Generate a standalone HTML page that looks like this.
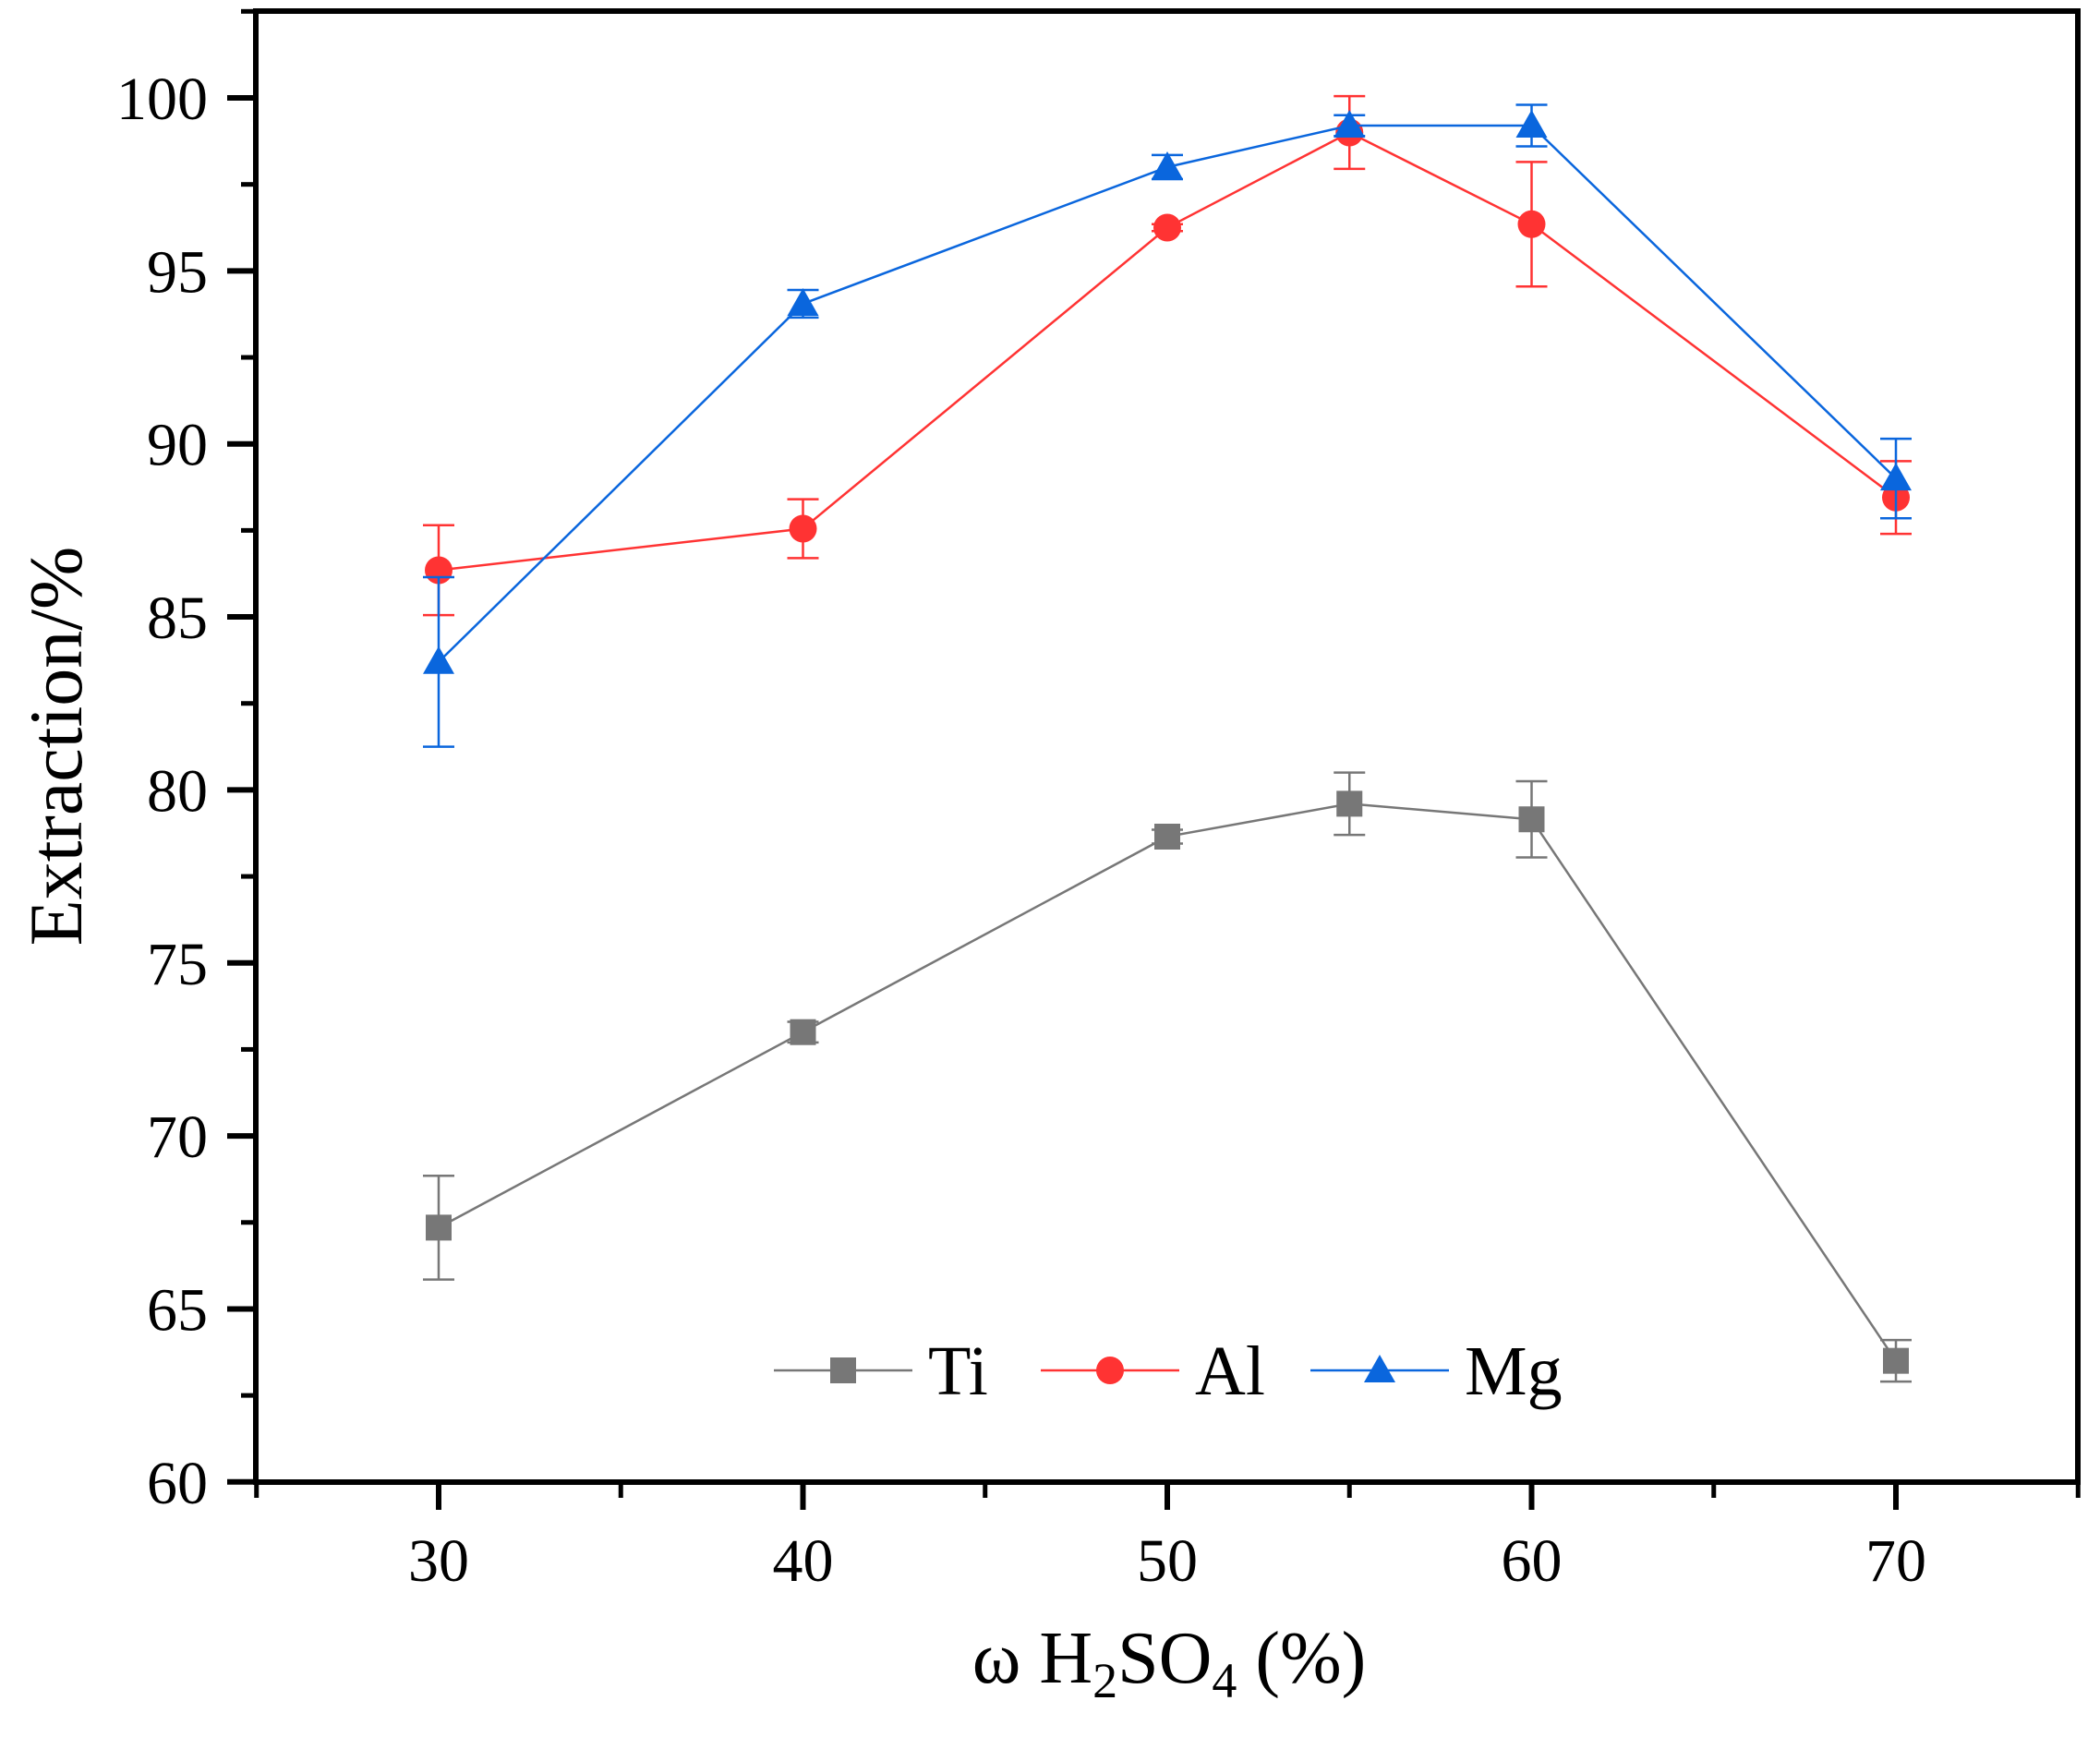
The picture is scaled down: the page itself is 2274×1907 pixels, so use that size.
<!DOCTYPE html>
<html><head><meta charset="utf-8"><style>html,body{margin:0;padding:0;background:#fff}svg{display:block}svg text{font-family:"Liberation Serif",serif}</style></head>
<body>
<svg id="chart" width="2274" height="1907" xmlns="http://www.w3.org/2000/svg" style="font-family:'Liberation Serif',serif">
<g id="axes"></g>
<g id="series"></g>
<g id="legend"></g>
<text x="0" y="0" transform="translate(88,808) rotate(-90)" text-anchor="middle" font-size="82">Extraction/%</text>
<text x="1266" y="1822" text-anchor="middle" font-size="80">ω H<tspan font-size="54" dy="16">2</tspan><tspan dy="-16">SO</tspan><tspan font-size="54" dy="16">4</tspan><tspan dy="-16"> (%)</tspan></text>
</svg>
<script>
const xCats = [30, 40, 50, 55, 60, 70];
const tiVals = [67.35, 73.0, 78.65, 79.6, 79.15, 63.5];
const tiErr = [1.5, 0.3, 0.2, 0.9, 1.1, 0.6];
const alVals = [86.35, 87.55, 96.25, 99.0, 96.35, 88.45];
const alErr = [1.3, 0.85, 0.1, 1.05, 1.8, 1.05];
const mgVals = [83.7, 94.05, 98.0, 99.2, 99.2, 89.0];
const mgErr = [2.45, 0.4, 0.35, 0.3, 0.6, 1.15];
const xTicks = [30, 40, 50, 60, 70];
const xMinor = [25, 35, 45, 55, 65, 75];
const yTicks = [60, 65, 70, 75, 80, 85, 90, 95, 100];
const yMinor = [62.5, 67.5, 72.5, 77.5, 82.5, 87.5, 92.5, 97.5, 102.5];

const NS = 'http://www.w3.org/2000/svg';
const L = 277, R = 2250, T = 12, B = 1605;
const X = v => 475 + (v - 30) * 39.45;
const Y = v => 106 + (100 - v) * 37.47;
function mk(tag, attrs, parent) { const e = document.createElementNS(NS, tag); for (const k in attrs) e.setAttribute(k, attrs[k]); parent.appendChild(e); return e; }

const ax = document.getElementById('axes');
let fr = mk('rect', {x: L, y: T, width: R - L, height: B - T, fill: 'none', stroke: '#000', 'stroke-width': 6}, ax);


xTicks.forEach(v => {
  const t = mk('line', {x1: X(v), x2: X(v), y1: B, y2: B + 30, stroke: '#000', 'stroke-width': 6}, ax);
  
  
  const tx = mk('text', {x: X(v), y: 1712, 'text-anchor': 'middle', 'font-size': 66}, ax);
  tx.textContent = v;
  
  
});
xMinor.forEach(v => {
  const t = mk('line', {x1: X(v), x2: X(v), y1: B, y2: B + 17, stroke: '#000', 'stroke-width': 5}, ax);
  
  
});
yTicks.forEach(v => {
  const t = mk('line', {x1: L - 31, x2: L, y1: Y(v), y2: Y(v), stroke: '#000', 'stroke-width': 6}, ax);
  
  
  const tx = mk('text', {x: 225, y: Y(v) + 23, 'text-anchor': 'end', 'font-size': 66}, ax);
  tx.textContent = v;
  
  
});
yMinor.forEach(v => {
  const t = mk('line', {x1: L - 16, x2: L, y1: Y(v), y2: Y(v), stroke: '#000', 'stroke-width': 5}, ax);
  
  
});

const sg = document.getElementById('series');
function marker(kind, cx, cy, color, parent) {
  let m;
  if (kind === 'square') m = mk('rect', {x: cx - 14, y: cy - 14, width: 28, height: 28, fill: color}, parent);
  else if (kind === 'circle') m = mk('circle', {cx: cx, cy: cy, r: 15, fill: color}, parent);
  else m = mk('polygon', {points: `${cx},${cy - 17} ${cx - 17},${cy + 13} ${cx + 17},${cy + 13}`, fill: color}, parent);
  return m;
}
function drawSeries(name, vals, errs, color, kind) {
  const g = mk('g', {}, sg);
  
  
  const pts = xCats.map((x, i) => X(x) + ',' + Y(vals[i])).join(' ');
  const pl = mk('polyline', {points: pts, fill: 'none', stroke: color, 'stroke-width': 2.5}, g);
  
  
  xCats.forEach((x, i) => {
    const cx = X(x), y1 = Y(vals[i] + errs[i]), y2 = Y(vals[i] - errs[i]);
    const e = mk('path', {d: `M${cx},${y1}V${y2}M${cx - 17},${y1}H${cx + 17}M${cx - 17},${y2}H${cx + 17}`, stroke: color, 'stroke-width': 2.5, fill: 'none'}, g);
    
    
  });
  xCats.forEach((x, i) => {
    const m = marker(kind, X(x), Y(vals[i]), color, g);
    
    
  });
}
drawSeries('ti', tiVals, tiErr, '#777777', 'square');
drawSeries('al', alVals, alErr, '#ff3333', 'circle');
drawSeries('mg', mgVals, mgErr, '#0a66dd', 'triangle');

const lg = document.getElementById('legend');
[['Ti', '#777777', 'square', 838], ['Al', '#ff3333', 'circle', 1127], ['Mg', '#0a66dd', 'triangle', 1419]].forEach(([lab, c, k, x0]) => {
  const g = mk('g', {}, lg);
  
  
  mk('line', {x1: x0, x2: x0 + 150, y1: 1484, y2: 1484, stroke: c, 'stroke-width': 2.5}, g);
  marker(k, x0 + 75, 1484, c, g);
  const t = mk('text', {x: x0 + 167, y: 1510, 'font-size': 76}, g);
  t.textContent = lab;
});
</script>
</body></html>
